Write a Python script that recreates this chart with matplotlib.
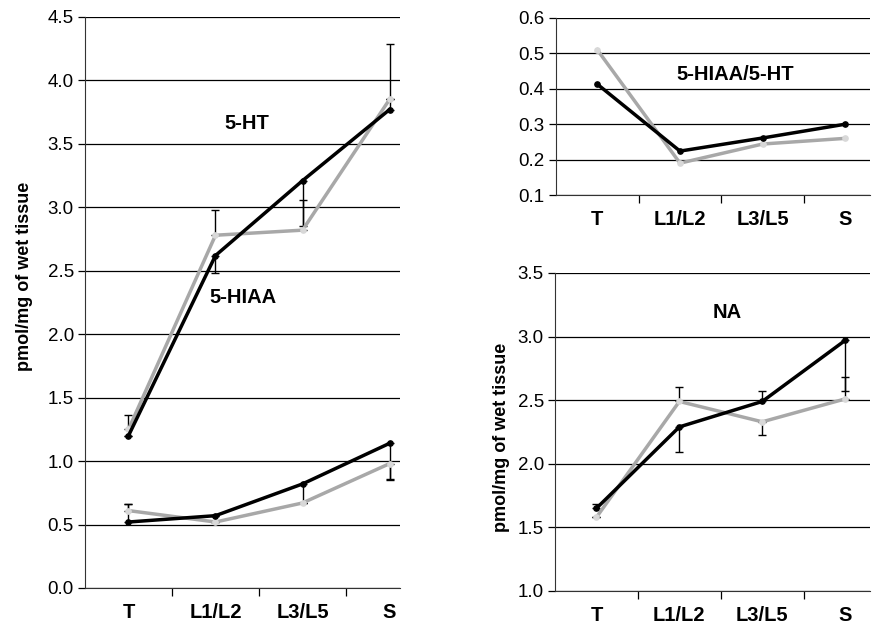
import matplotlib.pyplot as plt
import numpy as np

plt.rcParams['font.family'] = ['Liberation Sans', 'DejaVu Sans']

cats = ["T", "L1/L2", "L3/L5", "S"]

# left panel: 5-HT and 5-HIAA
ht_black = [1.20, 2.62, 3.21, 3.77]
ht_gray = [1.25, 2.78, 2.82, 3.85]
ht_black_err = [0.0, 0.14, 0.36, 0.52]   # black bars: down, down, down, up
ht_gray_err = [0.11, 0.20, 0.24, 0.0]
hiaa_black = [0.52, 0.57, 0.82, 1.14]
hiaa_gray = [0.61, 0.52, 0.67, 0.98]
hiaa_black_err = [0.14, 0.0, 0.15, 0.28]
hiaa_gray_err = [0.05, 0.0, 0.0, 0.13]

# top right: ratio
ratio_black = [0.413, 0.224, 0.261, 0.300]
ratio_gray = [0.510, 0.190, 0.244, 0.260]

# bottom right: NA
na_black = [1.65, 2.29, 2.49, 2.97]
na_gray = [1.58, 2.49, 2.33, 2.51]
na_black_err = [0.03, 0.20, 0.08, 0.40]
na_gray_err = [0.02, 0.11, 0.10, 0.17]

BLACK = "black"
GRAY = "#a8a8a8"
x = np.arange(len(cats))

fig = plt.figure(figsize=(8.75, 6.24), dpi=100)


def style(ax, lo, hi, step, xmax):
    ax.set_ylim(lo, hi)
    ax.set_xlim(-0.5, xmax)
    vals = np.arange(lo, hi + step / 2, step)
    ax.set_yticks(vals)
    ax.set_yticklabels(["%.1f" % v for v in vals], fontsize=13.5)
    ax.yaxis.grid(True, color="black", lw=0.9)
    ax.set_axisbelow(True)
    for s in ["top", "right"]:
        ax.spines[s].set_visible(False)
    ax.spines["left"].set_color("#333333")
    ax.spines["bottom"].set_color("#333333")
    ax.tick_params(axis="y", length=5, width=0.9, pad=3)
    ax.set_xticks(x)
    ax.set_xticklabels(cats, fontsize=14.5, fontweight="bold")
    ax.tick_params(axis="x", which="major", length=0, pad=11)
    ax.set_xticks([0.5, 1.5, 2.5], minor=True)
    ax.tick_params(axis="x", which="minor", length=6, width=0.9, direction="out")


def lines(ax, b, g):
    ax.plot(x, g, color=GRAY, lw=2.5, marker="o", ms=3.8, mfc="#d8d8d8", mec="#d8d8d8", zorder=3)
    ax.plot(x, b, color=BLACK, lw=2.5, marker="o", ms=3.8, zorder=4)


# left panel
ax1 = fig.add_axes([0.0971, 0.0577, 0.36, 0.9151])
style(ax1, 0.0, 4.5, 0.5, 3.12)
ax1.errorbar(x, ht_black, yerr=[[0, ht_black_err[1], ht_black_err[2], 0], [0, 0, 0, ht_black_err[3]]],
             fmt="none", ecolor="black", elinewidth=1, capsize=3, zorder=2)
ax1.errorbar(x, ht_gray, yerr=[[0, 0, 0, 0], ht_gray_err], fmt="none", ecolor="black",
             elinewidth=1, capsize=3, zorder=2)
ax1.errorbar(x, hiaa_black, yerr=[[0, 0, hiaa_black_err[2], hiaa_black_err[3]], [hiaa_black_err[0], 0, 0, 0]],
             fmt="none", ecolor="black", elinewidth=1, capsize=3, zorder=2)
ax1.errorbar(x, hiaa_gray, yerr=[[0, 0, 0, hiaa_gray_err[3]], [hiaa_gray_err[0], 0, 0, 0]],
             fmt="none", ecolor="black", elinewidth=1, capsize=3, zorder=2)
lines(ax1, ht_black, ht_gray)
lines(ax1, hiaa_black, hiaa_gray)
ax1.text(1.36, 3.66, "5-HT", fontsize=14.5, fontweight="bold", ha="center", va="center")
ax1.text(1.32, 2.29, "5-HIAA", fontsize=14.5, fontweight="bold", ha="center", va="center")
ax1.set_ylabel("pmol/mg of wet tissue", fontsize=13, fontweight="bold")
ax1.yaxis.set_label_coords(-0.165, 0.546)

# top right panel
ax2 = fig.add_axes([0.6354, 0.6875, 0.359, 0.2837])
style(ax2, 0.1, 0.6, 0.1, 3.3)
lines(ax2, ratio_black, ratio_gray)
ax2.text(1.67, 0.44, "5-HIAA/5-HT", fontsize=14.5, fontweight="bold", ha="center", va="center")

# bottom right panel
ax3 = fig.add_axes([0.6343, 0.0529, 0.36, 0.5096])
style(ax3, 1.0, 3.5, 0.5, 3.3)
ax3.errorbar(x, na_black, yerr=[[0, na_black_err[1], 0, na_black_err[3]], [na_black_err[0], 0, na_black_err[2], 0]],
             fmt="none", ecolor="black", elinewidth=1, capsize=3, zorder=2)
ax3.errorbar(x, na_gray, yerr=[[0, 0, na_gray_err[2], 0], [0, na_gray_err[1], 0, na_gray_err[3]]],
             fmt="none", ecolor="black", elinewidth=1, capsize=3, zorder=2)
lines(ax3, na_black, na_gray)
ax3.text(1.58, 3.19, "NA", fontsize=14.5, fontweight="bold", ha="center", va="center")
ax3.set_ylabel("pmol/mg of wet tissue", fontsize=13, fontweight="bold")
ax3.yaxis.set_label_coords(-0.143, 0.484)

fig.savefig("out.png", dpi=100)
